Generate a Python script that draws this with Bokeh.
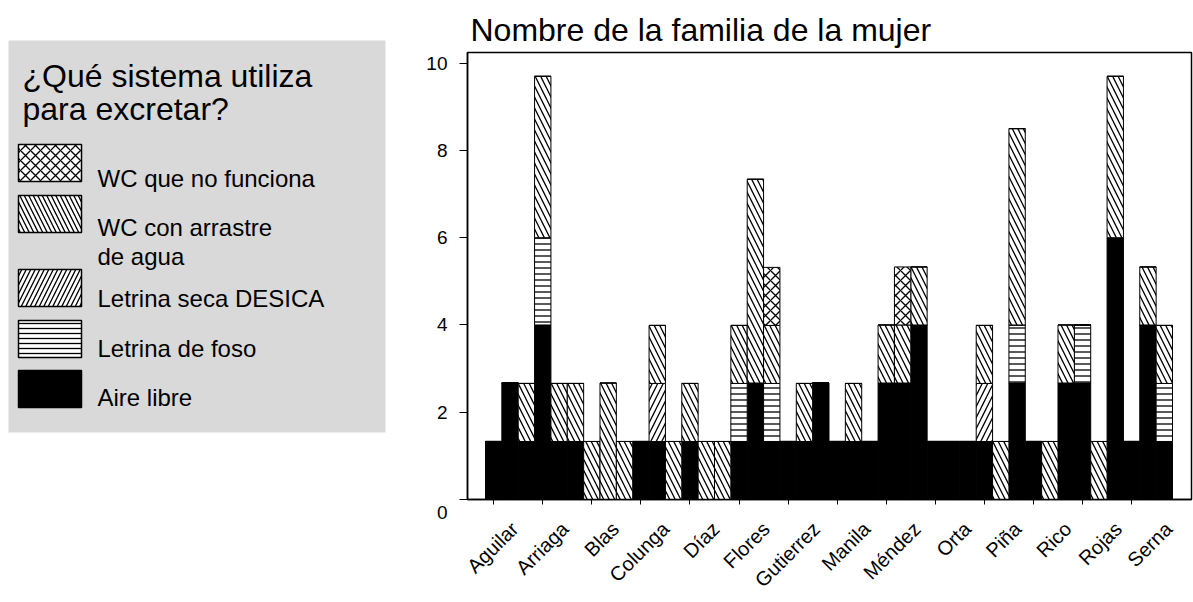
import math
from bokeh.plotting import figure
from bokeh.models import Range1d, FixedTicker, ColumnDataSource, LinearAxis
from bokeh.layouts import row
from bokeh.embed import file_html
from bokeh.resources import INLINE
from bokeh.core.properties import value

# ---------------- data ----------------
familias = ["Aguilar", "Arriaga", "Blas", "Colunga", "Díaz", "Flores", "Gutierrez",
            "Manila", "Méndez", "Orta", "Piña", "Rico", "Rojas", "Serna"]
barras_por_familia = 3

categorias = ["Aire libre", "Letrina de foso", "Letrina seca DESICA",
              "WC con arrastre de agua", "WC que no funciona"]

# one value per bar (3 bars per family), stacked bottom -> top in the order of categorias
aire_libre = [1.33, 2.67, 1.33,  4.0, 1.33, 1.33,  0, 0, 0,  1.33, 1.33, 0,  1.33, 0, 0,
              1.33, 2.67, 1.33,  1.33, 1.33, 2.67,  1.33, 1.33, 1.33,  2.67, 2.67, 4.0,
              1.33, 1.33, 1.33,  1.33, 0, 2.67,  1.33, 0, 2.67,  2.67, 0, 6.0,  1.33, 4.0, 1.33]
letrina_foso = [0, 0, 0,  2.0, 0, 0,  0, 0, 0,  0, 0, 0,  0, 0, 0,
                1.33, 0, 1.33,  0, 0, 0,  0, 0, 0,  0, 0, 0,
                0, 0, 0,  0, 0, 1.33,  0, 0, 0,  1.33, 0, 0,  0, 0, 1.33]
letrina_seca = [0, 0, 0,  0, 0, 0,  0, 0, 0,  0, 1.33, 0,  0, 0, 0,
                0, 0, 0,  0, 0, 0,  0, 0, 0,  0, 0, 0,
                0, 0, 0,  1.33, 0, 0,  0, 0, 0,  0, 0, 0,  0, 0, 0]
wc_agua = [0, 0, 1.33,  3.7, 1.33, 1.33,  1.33, 2.67, 1.33,  0, 1.33, 1.33,  1.33, 1.33, 1.33,
           1.33, 4.67, 1.33,  0, 1.33, 0,  0, 1.33, 0,  1.33, 1.33, 1.33,
           0, 0, 0,  1.33, 1.33, 4.5,  0, 1.33, 1.33,  0, 1.33, 3.7,  0, 1.33, 1.33]
wc_no_funciona = [0, 0, 0,  0, 0, 0,  0, 0, 0,  0, 0, 0,  0, 0, 0,
                  0, 0, 1.33,  0, 0, 0,  0, 0, 0,  0, 1.33, 0,
                  0, 0, 0,  0, 0, 0,  0, 0, 0,  0, 0, 0,  0, 0, 0]

series = [aire_libre, letrina_foso, letrina_seca, wc_agua, wc_no_funciona]
y_ticks = [0, 2, 4, 6, 8, 10]

# ---------------- styles / layout constants (pixels) ----------------
FONT = "Liberation Sans"
fills = ["black", "white", "white", "white", "white"]
hatches = [" ", "-", "/", "\\", "x"]
hatch_scales = [12, 6, 11, 11, 10]        # in the bars
legend_hatch_scales = [12, 5, 9, 9, 10]   # in the legend swatches

PAGE_W, PAGE_H = 1193, 602
LEG_W = 400                      # width of the legend panel (left)
MAIN_W = PAGE_W - LEG_W
FRAME_L, FRAME_R = 467, 1191     # page x of plot frame
FRAME_T, FRAME_B = 52, 499       # page y of plot frame
FIRST_BAR_L = 485                # page x of the left edge of the first bar
BAR_PX = 16.357                  # pixel width of one bar
Y_PX = 43.63                     # pixels per y unit
LABEL_SHIFT = 21                 # labels end right of their tick
LABEL_STEP_PX = 50.3             # label spacing (a bit wider than the tick spacing)

n_bars = len(familias) * barras_por_familia
xs = [float(i) for i in range(n_bars)]
data = {"x": xs}
for name, vals in zip(categorias, series):
    data[name] = vals
src = ColumnDataSource(data)

frame_w = FRAME_R - FRAME_L
x0 = -0.5 - (FIRST_BAR_L - FRAME_L) / BAR_PX
x1 = x0 + frame_w / BAR_PX
y1 = (FRAME_B - FRAME_T) / Y_PX

p = figure(width=MAIN_W, height=PAGE_H,
           x_range=Range1d(x0, x1), y_range=Range1d(0, y1),
           output_backend="svg", toolbar_location=None,
           min_border_left=FRAME_L - LEG_W, min_border_right=MAIN_W - (FRAME_R - LEG_W),
           min_border_top=FRAME_T, min_border_bottom=PAGE_H - FRAME_B,
           title="Nombre de la familia de la mujer")
p.frame_align = False
p.title.text_font = FONT
p.title.text_font_size = "32px"
p.title.text_font_style = "normal"
p.title.text_color = "black"
p.title.offset = 3
p.xgrid.visible = False
p.ygrid.visible = False
p.outline_line_color = "black"
p.outline_line_width = 1.5
p.background_fill_color = "white"
p.border_fill_color = "white"

p.vbar_stack(categorias, x="x", width=1.0, source=src,
             fill_color=fills, hatch_pattern=hatches, hatch_scale=hatch_scales,
             hatch_color="black", hatch_weight=1.3,
             line_color="black", line_width=1)

# y axis
p.yaxis.ticker = FixedTicker(ticks=y_ticks)
p.yaxis.major_label_overrides = {0: "\n0"}
p.yaxis.minor_tick_line_color = None
p.yaxis.major_tick_out = 8
p.yaxis.major_tick_in = 0
p.yaxis.major_label_standoff = 12
p.yaxis.major_label_text_font = FONT
p.yaxis.major_label_text_font_size = "19px"
p.yaxis.major_label_text_color = "black"
p.yaxis.axis_line_width = 1.5

# x axis (tick marks at the first bar of each family, no labels)
tick_pos = [i * barras_por_familia for i in range(len(familias))]
p.xaxis.ticker = FixedTicker(ticks=tick_pos)
p.xaxis.major_label_overrides = {t: "" for t in tick_pos}
p.xaxis.major_label_standoff = 0
p.xaxis.minor_tick_line_color = None
p.xaxis.major_tick_out = 5
p.xaxis.major_tick_in = 0
p.xaxis.axis_line_width = 1.5

# second (label-only) x axis on a slightly shifted range so the rotated names sit like the original
k = LABEL_STEP_PX / barras_por_familia
ls = tick_pos[0] - ((FIRST_BAR_L + 0.5 * BAR_PX + LABEL_SHIFT) - FRAME_L) / k
p.extra_x_ranges = {"lbl": Range1d(ls, ls + frame_w / k)}
lab_axis = LinearAxis(x_range_name="lbl", ticker=FixedTicker(ticks=tick_pos))
lab_axis.major_label_overrides = {t: f for t, f in zip(tick_pos, familias)}
lab_axis.axis_line_color = None
lab_axis.major_tick_line_color = None
lab_axis.minor_tick_line_color = None
lab_axis.major_tick_out = 0
lab_axis.major_tick_in = 0
lab_axis.major_label_orientation = math.pi / 4
lab_axis.major_label_standoff = 21
lab_axis.major_label_text_font = FONT
lab_axis.major_label_text_font_size = "20px"
lab_axis.major_label_text_color = "black"
p.add_layout(lab_axis, "below")

# ---------------- legend panel ----------------
leg = figure(width=LEG_W, height=PAGE_H, x_range=Range1d(0, LEG_W), y_range=Range1d(PAGE_H, 0),
             output_backend="svg", toolbar_location=None, min_border=0)
leg.frame_align = False
leg.axis.visible = False
leg.grid.visible = False
leg.outline_line_color = None
leg.background_fill_color = "white"
leg.border_fill_color = "white"

leg.quad(left=[8], right=[385], top=[40], bottom=[432], fill_color="#d9d9d9", line_color=None)

leg.text(x=[22, 22], y=[75, 108], text=["¿Qué sistema utiliza", "para excretar?"],
         text_font=value(FONT), text_font_size="32px", text_color="black",
         text_baseline="middle", text_align="left")

legend_order = [4, 3, 2, 1, 0]          # top -> bottom
sw_tops = [144, 195, 269, 320, 370]
sw_h = 37
labels = [["WC que no funciona"], ["WC con arrastre", "de agua"], ["Letrina seca DESICA"],
          ["Letrina de foso"], ["Aire libre"]]
label_y = [[178], [227, 256], [298], [348], [397]]
for j, ci in enumerate(legend_order):
    leg.quad(left=[18], right=[81], top=[sw_tops[j]], bottom=[sw_tops[j] + sw_h],
             fill_color=fills[ci], hatch_pattern=hatches[ci],
             hatch_scale=legend_hatch_scales[ci],
             hatch_color="black", hatch_weight=1.3, line_color="black", line_width=1.5)
    leg.text(x=[97] * len(labels[j]), y=label_y[j], text=labels[j],
             text_font=value(FONT), text_font_size="24px", text_color="black",
             text_baseline="middle", text_align="left")

layout = row(leg, p)
open("out.html", "w").write(file_html(layout, INLINE))
